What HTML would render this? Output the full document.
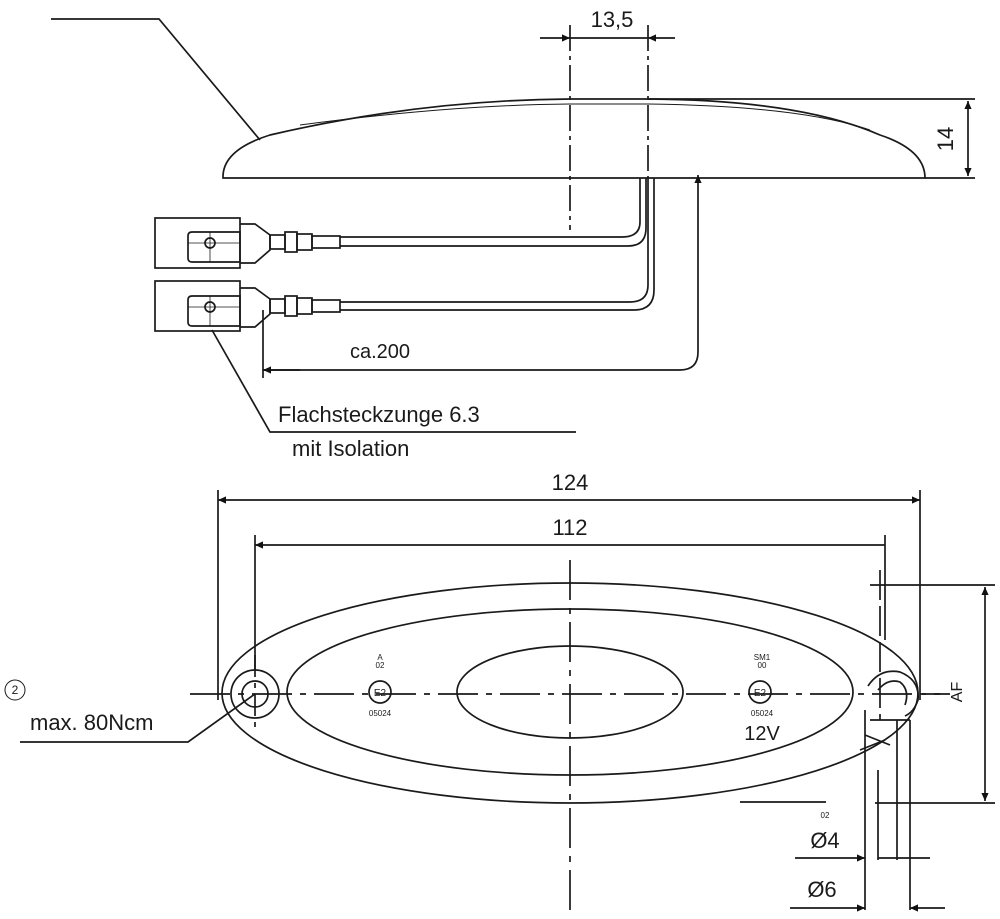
<!DOCTYPE html>
<html><head><meta charset="utf-8"><style>
html,body{margin:0;padding:0;background:#fff}
svg{display:block}
text{font-family:"Liberation Sans",sans-serif;fill:#1a1a1a}
</style></head><body>
<svg width="1000" height="919" viewBox="0 0 1000 919" xmlns="http://www.w3.org/2000/svg">
<defs>
<marker id="a" viewBox="0 0 10 10" refX="10" refY="5" markerWidth="16" markerHeight="8" orient="auto-start-reverse" markerUnits="userSpaceOnUse"><path d="M0,0.5 L10,5 L0,9.5 z" fill="#111"/></marker>
</defs>
<g fill="none" stroke="#1a1a1a" stroke-width="1.7">
<polyline points="51,19 159,19 260,140"/>
<path d="M223,178 Q222,150 270,135 Q420,100 570,99 L648,99 Q800,100 880,135 Q925,150 925,178 Z"/>
<path d="M300,125 Q450,105 570,104 L648,104 Q800,106 870,130" stroke-width="1"/>
<line x1="648" y1="99" x2="975" y2="99"/>
<line x1="925" y1="178" x2="975" y2="178"/>
<line x1="968" y1="101" x2="968" y2="176" marker-start="url(#a)" marker-end="url(#a)"/>
<line x1="570" y1="25" x2="570" y2="230" stroke-dasharray="26,5,4,5"/>
<line x1="648" y1="25" x2="648" y2="178" stroke-dasharray="26,5,4,5"/>
<line x1="540" y1="38" x2="570" y2="38" marker-end="url(#a)"/>
<line x1="675" y1="38" x2="648" y2="38" marker-end="url(#a)"/>
<line x1="570" y1="38" x2="648" y2="38"/>
<path d="M640,178 L640,222 Q640,237 622,237 L340,237"/>
<path d="M646,178 L646,228 Q646,246 628,246 L340,246"/>
<path d="M648,178 L648,285 Q648,302 630,302 L340,302"/>
<path d="M654,178 L654,290 Q654,310 634,310 L340,310"/>
<rect x="155" y="218" width="85" height="50"/>
<rect x="155" y="281" width="85" height="50"/>
<g id="c1">
<path d="M192,232 L240,232 L240,262 L192,262 Q188,262 188,258 L188,236 Q188,232 192,232 Z"/>
<circle cx="210" cy="243" r="5"/>
<line x1="210" y1="232" x2="210" y2="262" stroke-width="0.8"/>
<line x1="188" y1="243" x2="240" y2="243" stroke-width="0.8"/>
<path d="M240,224 L255,224 L270,235 L270,250 L255,263 L240,263"/>
<rect x="270" y="235" width="15" height="14"/>
<rect x="285" y="232" width="12" height="20"/>
<rect x="297" y="234" width="15" height="16"/>
<rect x="312" y="236" width="28" height="12"/>
</g>
<use href="#c1" transform="translate(0,64)"/>
<line x1="263" y1="310" x2="263" y2="378"/>
<path d="M263,370 L680,370 Q698,370 698,352 L698,175" marker-end="url(#a)"/>
<line x1="263" y1="370" x2="300" y2="370" marker-start="url(#a)"/>
<polyline points="212,330 270,432 576,432"/>

<line x1="218" y1="490" x2="218" y2="700"/>
<line x1="920" y1="490" x2="920" y2="700"/>
<line x1="218" y1="500" x2="920" y2="500" marker-start="url(#a)" marker-end="url(#a)"/>
<line x1="255" y1="535" x2="255" y2="670"/>
<line x1="885" y1="535" x2="885" y2="640"/>
<line x1="255" y1="545" x2="885" y2="545" marker-start="url(#a)"/>
<ellipse cx="570" cy="693" rx="348" ry="110"/>
<ellipse cx="570" cy="692" rx="283" ry="83"/>
<ellipse cx="570" cy="692" rx="113" ry="46"/>
<line x1="190" y1="694" x2="940" y2="694" stroke-dasharray="40,8,6,8"/>
<line x1="570" y1="560" x2="570" y2="910" stroke-dasharray="40,8,6,8"/>
<circle cx="255" cy="694" r="24"/>
<circle cx="255" cy="694" r="13"/>
<line x1="255" y1="655" x2="255" y2="732" stroke-dasharray="22,6,5,6"/>
<path d="M868,686 Q880,668 900,672 Q920,680 918,700 Q914,712 905,716"/>
<path d="M878,690 Q888,678 900,682 Q910,690 905,705"/>
<line x1="880" y1="570" x2="880" y2="720" stroke-dasharray="30,6"/>
<line x1="870" y1="720" x2="910" y2="720"/>
<line x1="865" y1="710" x2="865" y2="910"/>
<line x1="878" y1="770" x2="878" y2="860"/>
<line x1="897" y1="720" x2="897" y2="860"/>
<line x1="910" y1="720" x2="910" y2="910"/>
<line x1="865" y1="735" x2="890" y2="745"/>
<line x1="860" y1="750" x2="885" y2="740"/>
<line x1="870" y1="585" x2="995" y2="585"/>
<line x1="875" y1="803" x2="995" y2="803"/>
<line x1="985" y1="587" x2="985" y2="801" marker-start="url(#a)" marker-end="url(#a)"/>
<line x1="922" y1="694" x2="950" y2="694"/>
<line x1="795" y1="858" x2="865" y2="858" marker-end="url(#a)"/>
<line x1="878" y1="858" x2="930" y2="858"/>
<line x1="790" y1="908" x2="865" y2="908" marker-end="url(#a)"/>
<line x1="945" y1="908" x2="910" y2="908" marker-end="url(#a)"/>
<circle cx="380" cy="692" r="11"/>
<circle cx="760" cy="692" r="11"/>
<circle cx="15" cy="690" r="10" stroke-width="1"/>
<polyline points="20,742 188,742 255,694"/>
<line x1="740" y1="802" x2="826" y2="802"/>
</g>
<text x="612" y="27" font-size="22" text-anchor="middle">13,5</text>
<text transform="translate(953,139) rotate(-90)" font-size="22" text-anchor="middle">14</text>
<text x="350" y="358" font-size="20">ca.200</text>
<text x="278" y="422" font-size="22">Flachsteckzunge 6.3</text>
<text x="292" y="456" font-size="22">mit Isolation</text>
<text x="570" y="490" font-size="22" text-anchor="middle">124</text>
<text x="570" y="535" font-size="22" text-anchor="middle">112</text>
<text x="15" y="694" font-size="12" text-anchor="middle">2</text>
<text x="30" y="730" font-size="22">max. 80Ncm</text>
<text x="380" y="660" font-size="8" text-anchor="middle">A</text>
<text x="380" y="668" font-size="8" text-anchor="middle">02</text>
<text x="380" y="696" font-size="10" text-anchor="middle">E2</text>
<text x="380" y="716" font-size="8" text-anchor="middle">05024</text>
<text x="762" y="660" font-size="8" text-anchor="middle">SM1</text>
<text x="762" y="668" font-size="8" text-anchor="middle">00</text>
<text x="760" y="696" font-size="10" text-anchor="middle">E2</text>
<text x="762" y="716" font-size="8" text-anchor="middle">05024</text>
<text x="762" y="740" font-size="20" text-anchor="middle">12V</text>
<text x="825" y="818" font-size="8" text-anchor="middle">02</text>
<text transform="translate(962,692) rotate(-90)" font-size="16" text-anchor="middle">AF</text>
<text x="825" y="848" font-size="22" text-anchor="middle">Ø4</text>
<text x="822" y="897" font-size="22" text-anchor="middle">Ø6</text>
</svg>
</body></html>
